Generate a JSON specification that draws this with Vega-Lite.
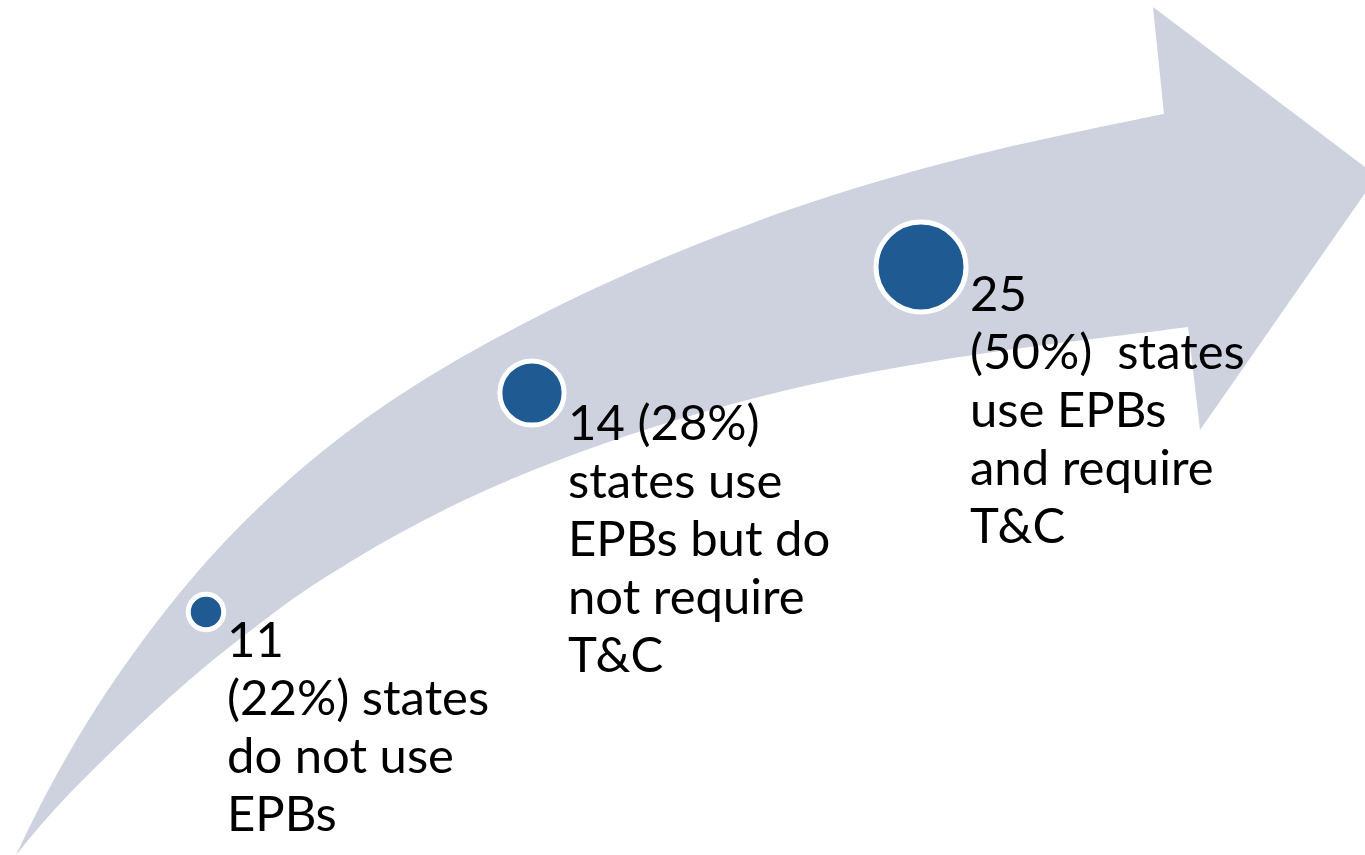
{
  "$schema": "https://vega.github.io/schema/vega-lite/v6.json",
  "autosize": {"type": "fit", "contains": "padding"},
  "width": 1365,
  "height": 855,
  "padding": 0,
  "background": "white",
  "config": {"view": {"stroke": null}},
  "datasets": {
    "body": [
      {"x": 16, "upper": 855, "lower": 855},
      {"x": 40, "upper": 806, "lower": 826},
      {"x": 70, "upper": 751, "lower": 793},
      {"x": 100, "upper": 702, "lower": 763},
      {"x": 133, "upper": 654, "lower": 731},
      {"x": 170, "upper": 605, "lower": 697},
      {"x": 207, "upper": 561, "lower": 665},
      {"x": 250, "upper": 516, "lower": 631},
      {"x": 300, "upper": 470, "lower": 594},
      {"x": 350, "upper": 430, "lower": 562},
      {"x": 400, "upper": 395, "lower": 533},
      {"x": 450, "upper": 364, "lower": 507},
      {"x": 500, "upper": 336, "lower": 484},
      {"x": 600, "upper": 286, "lower": 445},
      {"x": 700, "upper": 243, "lower": 413},
      {"x": 800, "upper": 206, "lower": 387},
      {"x": 900, "upper": 175, "lower": 367},
      {"x": 1000, "upper": 149, "lower": 351},
      {"x": 1100, "upper": 127, "lower": 338},
      {"x": 1164, "upper": 114, "lower": 330}
    ],
    "head": [
      {"i": 1, "x": 1140, "y": 119},
      {"i": 2, "x": 1164, "y": 114},
      {"i": 3, "x": 1153, "y": 7},
      {"i": 4, "x": 1377, "y": 176},
      {"i": 5, "x": 1200, "y": 430},
      {"i": 6, "x": 1188, "y": 327},
      {"i": 7, "x": 1140, "y": 333}
    ],
    "groups": [
      {"count": 11, "cx": 206, "cy": 612, "tx": 227, "ty": 657, "label": "11\n(22%) states\ndo not use\nEPBs"},
      {"count": 14, "cx": 532, "cy": 393, "tx": 568, "ty": 440, "label": "14 (28%)\nstates use\nEPBs but do\nnot require\nT&C"},
      {"count": 25, "cx": 921, "cy": 267, "tx": 970, "ty": 311, "label": "25\n(50%)\u00a0 states\nuse EPBs\nand require\nT&C"}
    ]
  },
  "layer": [
    {
      "data": {"name": "body"},
      "mark": {"type": "area", "color": "#CDD2DE", "opacity": 1, "interpolate": "monotone", "clip": true},
      "encoding": {
        "x": {"field": "x", "type": "quantitative", "scale": {"domain": [0, 1365]}, "axis": null},
        "y": {"field": "upper", "type": "quantitative", "scale": {"domain": [0, 855], "reverse": true}, "axis": null},
        "y2": {"field": "lower"}
      }
    },
    {
      "data": {"name": "head"},
      "mark": {"type": "line", "fill": "#CDD2DE", "stroke": null, "strokeWidth": 0, "clip": true, "interpolate": "linear"},
      "encoding": {
        "x": {"field": "x", "type": "quantitative", "scale": {"domain": [0, 1365]}, "axis": null},
        "y": {"field": "y", "type": "quantitative", "scale": {"domain": [0, 855], "reverse": true}, "axis": null},
        "order": {"field": "i", "type": "quantitative"}
      }
    },
    {
      "data": {"name": "groups"},
      "mark": {"type": "point", "shape": "circle", "filled": true, "fill": "#1F5A93", "stroke": "white", "strokeWidth": 5, "opacity": 1},
      "encoding": {
        "x": {"field": "cx", "type": "quantitative", "scale": {"domain": [0, 1365]}, "axis": null},
        "y": {"field": "cy", "type": "quantitative", "scale": {"domain": [0, 855], "reverse": true}, "axis": null},
        "size": {"field": "count", "type": "quantitative", "scale": {"domain": [11, 14, 25], "range": [1260, 4122, 8100]}, "legend": null}
      }
    },
    {
      "data": {"name": "groups"},
      "mark": {"type": "text", "align": "left", "baseline": "alphabetic", "font": "Lato", "fontSize": 49, "lineHeight": 58, "lineBreak": "\n", "color": "black"},
      "encoding": {
        "x": {"field": "tx", "type": "quantitative", "scale": {"domain": [0, 1365]}, "axis": null},
        "y": {"field": "ty", "type": "quantitative", "scale": {"domain": [0, 855], "reverse": true}, "axis": null},
        "text": {"field": "label", "type": "nominal"}
      }
    }
  ]
}
